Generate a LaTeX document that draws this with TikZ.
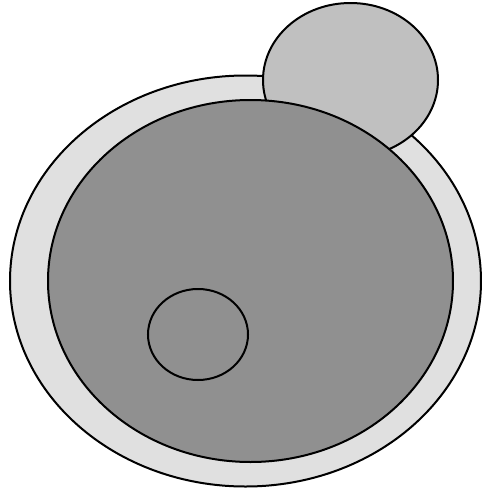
\documentclass[tikz,border=0pt]{standalone}
\usetikzlibrary{shapes.geometric}
\definecolor{outerfill}{HTML}{E0E0E0}
\definecolor{capfill}{HTML}{C0C0C0}
\definecolor{bodyfill}{HTML}{909090}
\tikzset{
  blob/.style={ellipse, draw=black, line width=2pt, inner sep=0pt}
}
\begin{document}
\begin{tikzpicture}[x=1pt,y=-1pt]
\useasboundingbox (0,0) rectangle (482,488);
\node[blob, fill=outerfill, minimum width=471pt, minimum height=411pt] (outer) at (245.5,281) {};
\node[blob, fill=capfill, minimum width=175pt, minimum height=154pt] (cap) at (350.5,80) {};
\node[blob, fill=bodyfill, minimum width=405pt, minimum height=362pt] (body) at (250.5,281) {};
\node[blob, minimum width=100pt, minimum height=91pt] (spot) at (198,334.5) {};
\end{tikzpicture}
\end{document}
